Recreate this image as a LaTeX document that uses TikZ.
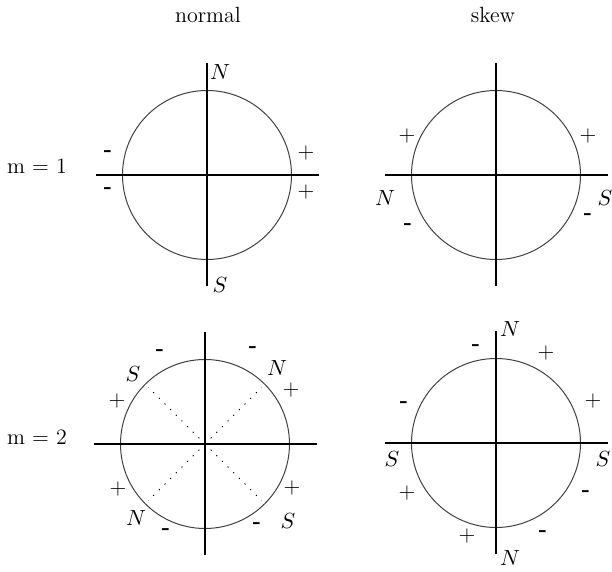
\documentclass[tikz,border=0pt]{standalone}
\usepackage{amsmath}
\usepackage{tikz}

\tikzset{
  ring/.style={line width=0.5pt, black!75},
  axis/.style={line width=0.65pt},
  fieldline/.style={line width=0.5pt, dash pattern=on 0.6pt off 3.4pt},
  plus/.style={inner sep=0pt},
  minus/.style={inner sep=0pt, font=\fontsize{11}{13}\selectfont\bfseries},
}

\begin{document}
\begin{tikzpicture}[x=0.5pt,y=0.5pt,every node/.append style={font=\fontsize{11}{13}\selectfont}]
\useasboundingbox (0,0) rectangle (612,572);
% titles of the columns and rows
\node (normal) at (208,557) {normal};
\node (skew) at (493,557) {skew};
\node (m1) at (37,406) {m = 1};
\node (m2) at (37,135) {m = 2};
% the four circles and their axes
\foreach \n/\x/\y in {c1/207/397,c2/496/397,c3/205/128,c4/496/129} {
  \coordinate (\n) at (\x,\y);
  \draw[ring] (\n) circle (42.25pt);
  \draw[axis] (\x-111.5,\y) -- (\x+111.5,\y);
  \draw[axis] (\x,\y-111.5) -- (\x,\y+111.5);
}
\foreach \a in {45,135,225,315}
  \draw[fieldline] (c3) -- ++(\a:80);
% poles
\foreach \x/\y/\p [count=\i] in {220/500/N,220/287/S,385/374/N,605/374/S,277/204/N,133/198/S,136/54/N,288/51/S,510/243/N,510/14/N,392/113/S,603/113/S}
  \node (p\i) at (\x,\y) {$\p$};
% signs
\foreach \x/\y [count=\i] in {306/419,306/380,407/436,588/436,117/171,291/182,118/83,292/84,546/219,593/171,407/79,467/36}
  \node[plus] (pl\i) at (\x,\y) {+};
\foreach \x/\y [count=\i] in {108/419,108/382,408/346,588/356,160/220,253/223,166/41,257/47,476/225,404/168,586/79,543/39}
  \node[minus] (mi\i) at (\x,\y-1) {-};
\end{tikzpicture}
\end{document}
